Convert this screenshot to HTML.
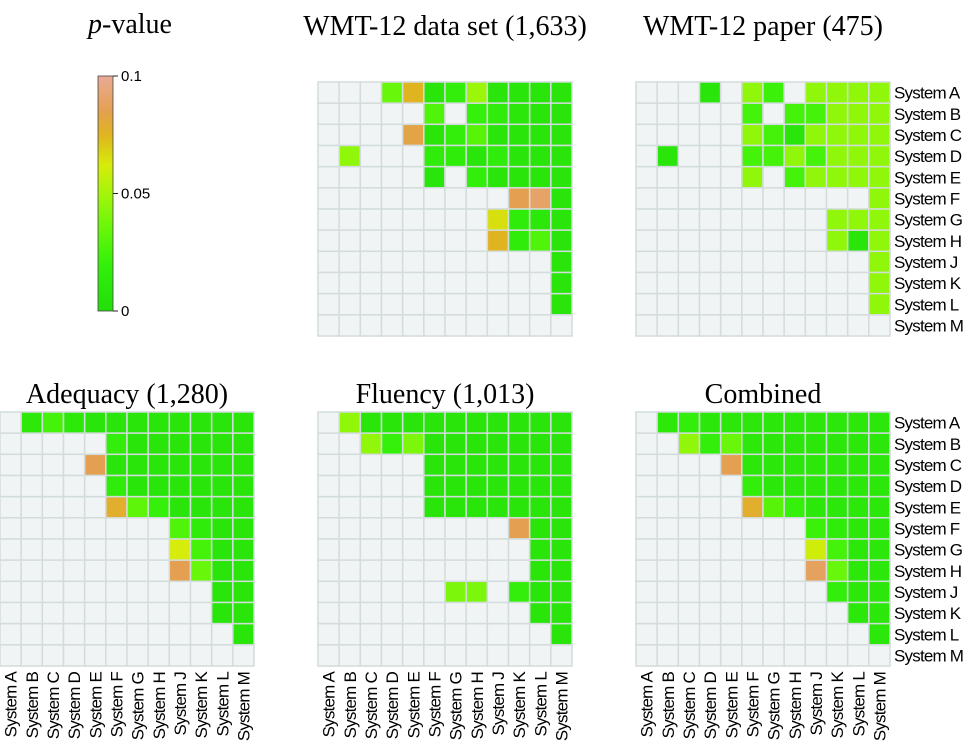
<!DOCTYPE html>
<html><head><meta charset="utf-8"><style>
body{margin:0;background:#fff;}
svg{display:block;}
.t{font-family:"Liberation Serif",serif;font-size:28px;fill:#000;}
.l{font-family:"Liberation Sans",sans-serif;font-size:17px;fill:#000;letter-spacing:-0.8px;}
.k{font-family:"Liberation Sans",sans-serif;font-size:15px;fill:#000;}
</style></head><body>
<svg id="s" width="969" height="744" viewBox="0 0 969 744"></svg>
<script>
const systems=["System A","System B","System C","System D","System E","System F","System G","System H","System J","System K","System L","System M"];
const _=null;
const wmtData=[
[_,_,_,.035,.075,.008,.018,.048,.008,.008,.008,.008],
[_,_,_,_,_,.028,_,.02,.015,.01,.008,.008],
[_,_,_,_,.083,.008,.018,.03,.008,.008,.008,.008],
[_,.045,_,_,_,.015,.015,.008,.015,.008,.008,.008],
[_,_,_,_,_,.008,_,.018,.008,.008,.008,.008],
[_,_,_,_,_,_,_,_,_,.085,.09,.008],
[_,_,_,_,_,_,_,_,.065,.015,.01,.008],
[_,_,_,_,_,_,_,_,.075,.015,.028,.008],
[_,_,_,_,_,_,_,_,_,_,_,.008],
[_,_,_,_,_,_,_,_,_,_,_,.008],
[_,_,_,_,_,_,_,_,_,_,_,.008],
[_,_,_,_,_,_,_,_,_,_,_,_]];
const paperData=[
[_,_,_,.008,_,.045,.022,_,.045,.045,.045,.045],
[_,_,_,_,_,.025,_,.025,.025,.045,.045,.045],
[_,_,_,_,_,.045,.025,.008,.045,.045,.045,.045],
[_,.008,_,_,_,.025,.025,.045,.025,.045,.045,.045],
[_,_,_,_,_,.045,_,.025,.045,.045,.045,.045],
[_,_,_,_,_,_,_,_,_,_,_,.045],
[_,_,_,_,_,_,_,_,_,.045,.045,.045],
[_,_,_,_,_,_,_,_,_,.045,.008,.045],
[_,_,_,_,_,_,_,_,_,_,_,.045],
[_,_,_,_,_,_,_,_,_,_,_,.045],
[_,_,_,_,_,_,_,_,_,_,_,.045],
[_,_,_,_,_,_,_,_,_,_,_,_]];
const adequacyData=[
[_,.012,.025,.012,.008,.008,.008,.008,.008,.008,.008,.008],
[_,_,_,_,_,.018,.008,.008,.008,.008,.008,.008],
[_,_,_,_,.085,.008,.008,.008,.008,.008,.008,.008],
[_,_,_,_,_,.015,.008,.008,.008,.008,.008,.008],
[_,_,_,_,_,.078,.032,.02,.008,.008,.008,.008],
[_,_,_,_,_,_,_,_,.028,.015,.008,.008],
[_,_,_,_,_,_,_,_,.062,.025,.008,.008],
[_,_,_,_,_,_,_,_,.085,.035,.008,.008],
[_,_,_,_,_,_,_,_,_,_,.008,.008],
[_,_,_,_,_,_,_,_,_,_,.008,.008],
[_,_,_,_,_,_,_,_,_,_,_,.008],
[_,_,_,_,_,_,_,_,_,_,_,_]];
const fluencyData=[
[_,.045,.008,.008,.008,.008,.008,.008,.008,.008,.008,.008],
[_,_,.045,.02,.04,.008,.008,.008,.008,.008,.008,.008],
[_,_,_,_,_,.008,.008,.008,.008,.008,.008,.008],
[_,_,_,_,_,.008,.008,.008,.008,.008,.008,.008],
[_,_,_,_,_,.008,.008,.008,.008,.008,.008,.008],
[_,_,_,_,_,_,_,_,_,.085,.008,.008],
[_,_,_,_,_,_,_,_,_,_,.008,.008],
[_,_,_,_,_,_,_,_,_,_,.008,.008],
[_,_,_,_,_,_,.04,.04,_,.018,.008,.008],
[_,_,_,_,_,_,_,_,_,_,.008,.008],
[_,_,_,_,_,_,_,_,_,_,_,.008],
[_,_,_,_,_,_,_,_,_,_,_,_]];
const combinedData=[
[_,.012,.018,.01,.01,.01,.01,.01,.01,.01,.01,.01],
[_,_,.045,.018,.035,.012,.01,.01,.01,.01,.01,.01],
[_,_,_,_,.085,.01,.01,.01,.01,.01,.01,.01],
[_,_,_,_,_,.018,.01,.01,.01,.01,.01,.01],
[_,_,_,_,_,.078,.03,.02,.01,.01,.01,.01],
[_,_,_,_,_,_,_,_,.022,.015,.01,.01],
[_,_,_,_,_,_,_,_,.06,.025,.01,.01],
[_,_,_,_,_,_,_,_,.088,.035,.01,.01],
[_,_,_,_,_,_,_,_,_,.018,.01,.01],
[_,_,_,_,_,_,_,_,_,_,.01,.01],
[_,_,_,_,_,_,_,_,_,_,_,.01],
[_,_,_,_,_,_,_,_,_,_,_,_]];
const legendTicks=[0,0.05,0.1];
const legendLabels=["0","0.05","0.1"];

const stops=[[0,[34,222,10]],[0.02,[52,240,10]],[0.035,[104,246,10]],[0.048,[156,246,10]],[0.062,[214,236,10]],[0.075,[224,180,32]],[0.085,[228,160,80]],[0.1,[234,170,150]]];
function color(v){
  for(let i=1;i<stops.length;i++){
    if(v<=stops[i][0]){const a=stops[i-1],b=stops[i];const t=(v-a[0])/(b[0]-a[0]);
      const c=a[1].map((x,j)=>Math.round(x+(b[1][j]-x)*t));return `rgb(${c[0]},${c[1]},${c[2]})`;}
  }
  return "rgb(234,170,150)";
}
const NS="http://www.w3.org/2000/svg";
const svg=document.getElementById('s');
function mk(tag,attrs,parent){const e=document.createElementNS(NS,tag);for(const k in attrs)e.setAttribute(k,attrs[k]);(parent||svg).appendChild(e);return e;}
function txt(str,attrs,cls,parent){const e=mk('text',attrs,parent);e.setAttribute('class',cls);e.textContent=str;return e;}

const panels=[
{d:wmtData,x:318,y:82,ty:35,title:"WMT-12 data set (1,633)",name:"wmt12-data-heatmap",rowL:false,colL:false},
{d:paperData,x:636,y:82,ty:35,title:"WMT-12 paper (475)",name:"wmt12-paper-heatmap",rowL:true,colL:false},
{d:adequacyData,x:0,y:412,ty:403,title:"Adequacy (1,280)",name:"adequacy-heatmap",rowL:false,colL:true},
{d:fluencyData,x:318,y:412,ty:403,title:"Fluency (1,013)",name:"fluency-heatmap",rowL:false,colL:true},
{d:combinedData,x:636,y:412,ty:403,title:"Combined",name:"combined-heatmap",rowL:true,colL:true}];
const W=254,n=12,cs=W/n;
panels.forEach(p=>{
  const g=mk('g',{});
  
  
  const tt=txt(p.title,{x:p.x+W/2,y:p.ty,'text-anchor':'middle'},'t',g);
  
  
  for(let r=0;r<n;r++)for(let c=0;c<n;c++){
    const v=p.d[r][c];
    const rc=mk('rect',{x:p.x+c*cs,y:p.y+r*cs,width:cs,height:cs,fill:v===null?'#f1f4f4':color(v),stroke:'#d3dcdc','stroke-width':1.5},g);
    
    
  }
  if(p.rowL){for(let r=0;r<n;r++){
    const t=txt(systems[r],{x:p.x+W+4,y:p.y+r*cs+cs/2+6},'l',g);
    
    
  }}
  if(p.colL){for(let c=0;c<n;c++){
    const cx=p.x+c*cs+cs/2+6,cy=p.y+W+6;
    const t=txt(systems[c],{x:cx,y:cy,'text-anchor':'end',transform:`rotate(-90 ${cx} ${cy})`},'l',g);
    
    
  }}
});
const lg=mk('g',{});


const lt=mk('text',{x:130,y:33,'text-anchor':'middle'},lg);lt.setAttribute('class','t');
lt.innerHTML='<tspan font-style="italic">p</tspan>-value';


const def=mk('defs',{},lg);const gr=mk('linearGradient',{id:'cg',x1:0,y1:1,x2:0,y2:0},def);
stops.forEach(s=>mk('stop',{offset:s[0]/0.1,'stop-color':`rgb(${s[1].join(',')})`},gr));
const by0=76,by1=311,bx=98,bw=15;
const bar=mk('rect',{x:bx,y:by0,width:bw,height:by1-by0,fill:'url(#cg)',stroke:'#444','stroke-width':0.8},lg);


legendTicks.forEach((v,i)=>{
  const y=by1-(v/0.1)*(by1-by0);
  const tk=mk('line',{x1:bx+bw,x2:bx+bw+5,y1:y,y2:y,stroke:'#222','stroke-width':1},lg);
  
  
  const tl=txt(legendLabels[i],{x:bx+bw+8,y:y+5},'k',lg);
  
  
});
</script>
</body></html>
